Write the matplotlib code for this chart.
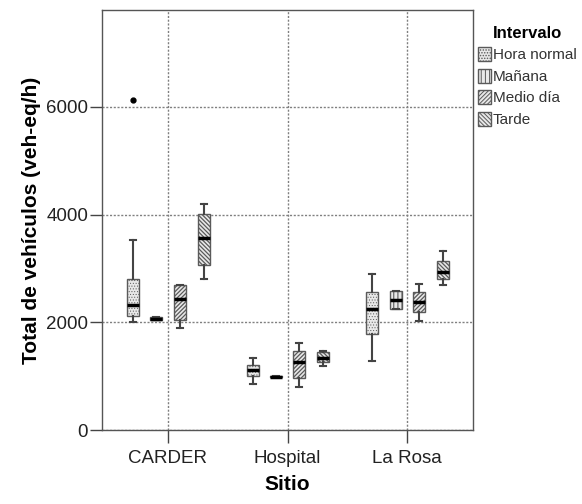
import matplotlib.pyplot as plt
from matplotlib.patches import Patch

plt.rcParams['font.family'] = ['Liberation Sans', 'DejaVu Sans']
plt.rcParams['hatch.linewidth'] = 0.7

sitios = ['CARDER', 'Hospital', 'La Rosa']
intervalos = ['Hora normal', 'Mañana', 'Medio día', 'Tarde']
hatches = ['......', '||||', '////////', '\\\\\\\\\\\\\\\\']
hatch_lw = [0.4, 0.8, 0.9, 0.9]

# box stats per intervalo, one value per sitio
whislo = {'Hora normal': [2000, 855, 1280],
          'Mañana': [2050, 985, 2240],
          'Medio día': [1900, 790, 2030],
          'Tarde': [2800, 1190, 2690]}
q1 = {'Hora normal': [2110, 1006, 1784],
      'Mañana': [2050, 985, 2240],
      'Medio día': [2043, 957, 2190],
      'Tarde': [3056, 1255, 2810]}
med = {'Hora normal': [2320, 1117, 2240],
       'Mañana': [2070, 990, 2420],
       'Medio día': [2440, 1254, 2383],
       'Tarde': [3575, 1346, 2940]}
q3 = {'Hora normal': [2800, 1204, 2570],
      'Mañana': [2090, 995, 2580],
      'Medio día': [2690, 1469, 2561],
      'Tarde': [4006, 1445, 3130]}
whishi = {'Hora normal': [3520, 1335, 2895],
          'Mañana': [2090, 995, 2580],
          'Medio día': [2700, 1624, 2717],
          'Tarde': [4200, 1470, 3333]}
fliers = {'Hora normal': [[6120], [], []],
          'Mañana': [[], [], []],
          'Medio día': [[], [], []],
          'Tarde': [[], [], []]}

offsets = [-0.29, -0.095, 0.1, 0.3]

fig = plt.figure(figsize=(5.82, 5.04), dpi=100)
ax = fig.add_axes([0.1753, 0.1468, 0.6374, 0.8333])


def style_patch(p, j):
    p.set_hatch(hatches[j])
    if hasattr(p, 'set_hatch_linewidth'):
        p.set_hatch_linewidth(hatch_lw[j])


for j, name in enumerate(intervalos):
    stats = []
    for i in range(len(sitios)):
        stats.append({'whislo': whislo[name][i], 'q1': q1[name][i], 'med': med[name][i],
                      'q3': q3[name][i], 'whishi': whishi[name][i], 'fliers': fliers[name][i]})
    pos = [i + offsets[j] for i in range(len(sitios))]
    bp = ax.bxp(stats, positions=pos, widths=0.1, capwidths=0.05, patch_artist=True,
                manage_ticks=False,
                boxprops=dict(facecolor='#e8e8e8', edgecolor='#5a5a5a', linewidth=1.0),
                medianprops=dict(color='black', linewidth=2.5),
                whiskerprops=dict(color='#444444', linewidth=1.5),
                capprops=dict(color='#444444', linewidth=1.5),
                flierprops=dict(marker='o', markerfacecolor='black', markeredgecolor='black',
                                markersize=3.5))
    for b in bp['boxes']:
        style_patch(b, j)

ax.set_xlim(-0.55, 2.55)
ax.set_ylim(0, 7800)
ax.set_xticks(range(len(sitios)))
ax.set_xticklabels(sitios)
ax.set_yticks([0, 2000, 4000, 6000])
ax.tick_params(axis='y', length=9, width=1, color='#444444', pad=1, labelsize=13.5, labelcolor='#222222')
ax.tick_params(axis='x', length=9.5, width=1, color='#444444', pad=5, labelsize=13.5, labelcolor='#222222')
ax.grid(True, color='#808080', linestyle=(0, (1.5, 1.2)), linewidth=1)
ax.set_axisbelow(True)
for s in ax.spines.values():
    s.set_color('#555555')
    s.set_linewidth(1)

ax.set_ylabel('Total de vehículos (veh-eq/h)', fontsize=15, fontweight='bold', labelpad=4)
ax.set_xlabel('Sitio', fontsize=15, fontweight='bold', labelpad=6)

handles = []
for j, n in enumerate(intervalos):
    h = Patch(facecolor='#e8e8e8', edgecolor='#5a5a5a', label=n)
    style_patch(h, j)
    handles.append(h)
leg = ax.legend(handles=handles, title='Intervalo', loc='upper left', bbox_to_anchor=(1.0, 0.973),
                frameon=False, fontsize=11, handlelength=0.9, handleheight=1.0,
                handletextpad=0.1, labelspacing=0.42, borderaxespad=0.1, borderpad=0.2)
leg.get_title().set_fontsize(12)
leg.get_title().set_fontweight('bold')
for t in leg.get_texts():
    t.set_color('#333333')

fig.savefig('out.png', dpi=100)
